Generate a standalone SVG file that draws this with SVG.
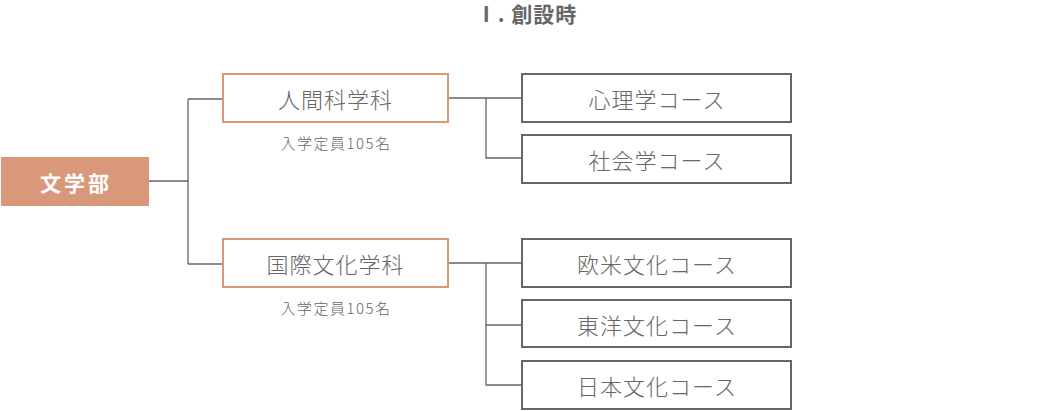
<svg xmlns="http://www.w3.org/2000/svg" width="1050" height="411" viewBox="0 0 1050 411">
<style>
text{font-family:"Noto Sans CJK JP","Noto Sans",sans-serif;fill:#666;text-anchor:middle;dominant-baseline:central}
.dept{fill:#fff;stroke:#d9987a;stroke-width:2}
.course{fill:#fff;stroke:#666;stroke-width:2}
.lbl{font-size:22px;letter-spacing:1px;font-weight:300}
.cap{font-size:15px;letter-spacing:1.5px;font-weight:300}
.conn{fill:none;stroke:#666;stroke-width:1.3}
</style>
<rect width="1050" height="411" fill="#fff"/>
<text x="526.5" y="13" style="font-size:21px;font-weight:bold;letter-spacing:1px">Ⅰ. 創設時</text>
<g id="connectors" class="conn">
<path d="M149 181H188M188 99V264M188 99H223M188 264H223"/>
<path d="M448 98H522M486 98V158H522"/>
<path d="M448 263H522M486 263V385H522M486 325H522"/>
</g>
<g id="n-bungakubu"><rect x="1" y="157" width="148" height="49" fill="#d9987a"/><text x="76" y="181.5" style="font-size:21px;font-weight:bold;fill:#fff;letter-spacing:3px">文学部</text></g>
<g id="n-ningen"><rect class="dept" x="223" y="74" width="225" height="48"/><text class="lbl" x="335.5" y="98">人間科学科</text><text class="cap" x="336" y="142">入学定員105名</text></g>
<g id="n-kokusai"><rect class="dept" x="223" y="239" width="225" height="48"/><text class="lbl" x="335.5" y="263">国際文化学科</text><text class="cap" x="336" y="307">入学定員105名</text></g>
<g id="n-shinri"><rect class="course" x="522" y="74" width="269" height="48"/><text class="lbl" x="657" y="98">心理学コース</text></g>
<g id="n-shakai"><rect class="course" x="522" y="135" width="269" height="48"/><text class="lbl" x="657" y="159">社会学コース</text></g>
<g id="n-oubei"><rect class="course" x="522" y="239" width="269" height="48"/><text class="lbl" x="657" y="263">欧米文化コース</text></g>
<g id="n-touyou"><rect class="course" x="522" y="300" width="269" height="47"/><text class="lbl" x="657" y="324">東洋文化コース</text></g>
<g id="n-nihon"><rect class="course" x="522" y="361" width="269" height="48"/><text class="lbl" x="657" y="385">日本文化コース</text></g>
</svg>
